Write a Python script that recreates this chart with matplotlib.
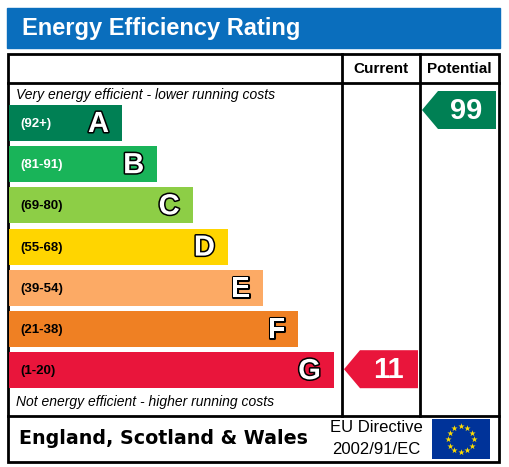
import numpy as np
import matplotlib
matplotlib.use("Agg")
from matplotlib import pyplot as plt
from matplotlib.patches import Rectangle, Polygon
import matplotlib.patheffects as pe

plt.rcParams['font.family'] = ['Liberation Sans', 'DejaVu Sans']

bands = ["A", "B", "C", "D", "E", "F", "G"]
ranges = ["(92+)", "(81-91)", "(69-80)", "(55-68)", "(39-54)", "(21-38)", "(1-20)"]
colors = ["#008054", "#19b459", "#8dce46", "#ffd500", "#fcaa65", "#ef8023", "#e9153b"]
current_value = 11
current_band = "G"
potential_value = 99
potential_band = "A"

W, H = 509, 467
fig = plt.figure(figsize=(W / 100, H / 100), dpi=100)
ax = fig.add_axes([0, 0, 1, 1])
ax.set_xlim(0, W)
ax.set_ylim(H, 0)
ax.axis("off")

# title bar
ax.add_patch(Rectangle((7, 8), 493, 40, color="#0a6ebd"))
ax.text(22, 29, "Energy Efficiency Rating", color="white", fontsize=17,
        fontweight="bold", va="center", ha="left")

# frame
lw = 2
ax.add_patch(Rectangle((8, 54), 491, 408, fill=False, ec="black", lw=lw))
ax.plot([8, 499], [83, 83], color="black", lw=lw)
ax.plot([8, 499], [416, 416], color="black", lw=lw)
ax.plot([342, 342], [54, 416], color="black", lw=lw)
ax.plot([420, 420], [54, 416], color="black", lw=lw)
ax.text(381, 69, "Current", fontsize=11, fontweight="bold", ha="center", va="center")
ax.text(459, 69, "Potential", fontsize=11, fontweight="bold", ha="center", va="center")

ax.text(16, 95, "Very energy efficient - lower running costs", fontsize=10,
        style="italic", ha="left", va="center")
ax.text(16, 402, "Not energy efficient - higher running costs", fontsize=10,
        style="italic", ha="left", va="center")

# bands
top = 105
pitch = 41.2
bh = 36
x0 = 9
for i, b in enumerate(bands):
    y = top + i * pitch
    right = 122 + i * 35.3
    ax.add_patch(Rectangle((x0, y), right - x0, bh, color=colors[i], lw=0))
    tc = "white" if i < 2 else "black"
    ax.text(20, y + bh / 2 + 1, ranges[i], fontsize=9.5, fontweight="bold",
            color=tc, ha="left", va="center")
    ax.text(right - 13, y + bh / 2 + 1, b, fontsize=21, fontweight="bold",
            color="white", ha="right", va="center",
            path_effects=[pe.withStroke(linewidth=2.2, foreground="black")])


def arrow(x_left, x_right, band, value):
    i = bands.index(band)
    y = top + i * pitch - 14 if band == "A" else top + i * pitch - 2
    y1 = y + 38
    ym = (y + y1) / 2
    pts = [(x_left, ym), (x_left + 16, y), (x_right, y), (x_right, y1), (x_left + 16, y1)]
    ax.add_patch(Polygon(pts, closed=True, color=colors[i], lw=0))
    ax.text(x_right - 30, ym + 1, str(value), fontsize=21, fontweight="bold",
            color="white", ha="center", va="center")


arrow(344, 418, current_band, current_value)
arrow(422, 496, potential_band, potential_value)

# footer
ax.text(19, 438, "England, Scotland & Wales", fontsize=13.7, fontweight="bold",
        family="DejaVu Sans", ha="left", va="center")
ax.text(376, 428, "EU Directive", fontsize=12, ha="center", va="center")
ax.text(376, 449, "2002/91/EC", fontsize=12, ha="center", va="center")
ax.add_patch(Rectangle((432, 419), 58, 40, color="#003399", lw=0))
ang = np.linspace(0, 2 * np.pi, 13)[:-1]
ax.scatter(461 + 13 * np.cos(ang), 439 + 13 * np.sin(ang), marker="*", s=22,
           color="#ffdd00", lw=0, zorder=5)

fig.savefig("out.png", dpi=100)
